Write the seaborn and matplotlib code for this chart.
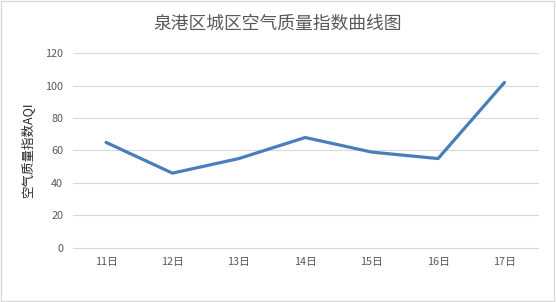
import matplotlib
matplotlib.use("Agg")
import matplotlib.pyplot as plt
import seaborn as sns
import pandas as pd
from matplotlib.patches import Rectangle

days = ["11日", "12日", "13日", "14日", "15日", "16日", "17日"]
aqi = [65, 46, 55, 68, 59, 55, 102]
yticks = [0, 20, 40, 60, 80, 100, 120]

sns.set_theme(style="white")
plt.rcParams['font.family'] = ['Noto Sans CJK SC', 'DejaVu Sans']

df = pd.DataFrame({"day": days, "aqi": aqi})

fig = plt.figure(figsize=(5.56, 3.02), dpi=100)
ax = fig.add_axes([0.131, 0.18, 0.836, 0.6435])
sns.lineplot(data=df, x="day", y="aqi", ax=ax, color="#4A7EBB", linewidth=2.3, sort=False)

ax.set_xlim(-0.5, len(days) - 0.5)
ax.set_ylim(0, 120)
ax.set_yticks(yticks)
ax.yaxis.grid(True, color="#d9d9d9", linewidth=0.8)
ax.xaxis.grid(False)
for gl in ax.yaxis.get_gridlines():
    gl.set_clip_on(False)
for s in ax.spines.values():
    s.set_visible(False)
ax.tick_params(axis="both", length=0, labelsize=7.8, labelcolor="#595959", pad=7)
ax.set_xlabel("")
ax.set_ylabel("空气质量指数AQI", fontsize=9, color="#262626", labelpad=7)
ax.set_axisbelow(True)

fig.text(0.5, 0.922, "泉港区城区空气质量指数曲线图", ha="center", va="center",
         fontsize=12.8, color="#595959")
fig.patches.append(Rectangle((0.002, 0.003), 0.995, 0.993, transform=fig.transFigure,
                             fill=False, edgecolor="#d9d9d9", linewidth=1))

fig.savefig("out.png", dpi=100)
